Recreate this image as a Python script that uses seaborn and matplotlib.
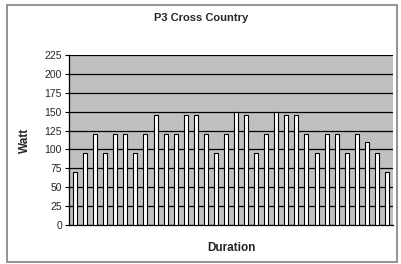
import matplotlib
matplotlib.use("Agg")
import matplotlib.pyplot as plt
import seaborn as sns
import pandas as pd
from matplotlib.patches import Rectangle

watts = [70, 95, 120, 95, 120, 120, 95, 120, 145, 120, 120, 145, 145, 120, 95, 120,
         150, 145, 95, 120, 150, 145, 145, 120, 95, 120, 120, 95, 120, 110, 95, 70]
steps = list(range(1, len(watts) + 1))
yticks = list(range(0, 226, 25))

df = pd.DataFrame({"step": steps, "watt": watts})

sns.set_style("white")
plt.rcParams['font.family'] = ['Liberation Sans', 'DejaVu Sans']

fig = plt.figure(figsize=(4.01, 2.64), dpi=100)
ax = fig.add_axes([69/401, 1 - 225/264, (393 - 69)/401, (225 - 55)/264])
ax.set_facecolor("#c0c0c0")

sns.barplot(data=df, x="step", y="watt", color="white", edgecolor="black",
            linewidth=0.8, width=0.4, saturation=1, ax=ax, zorder=3)

ax.set_ylim(0, 225)
ax.set_xlim(-0.6, len(watts) - 0.4)
ax.set_yticks(yticks)
ax.set_yticklabels([str(t) for t in yticks], fontsize=7.5)
ax.set_xticks([])
ax.yaxis.grid(True, color="black", linewidth=0.9, zorder=1)
ax.set_axisbelow(True)
ax.tick_params(axis="y", length=3, width=0.8, color="black", pad=2, left=True)
for s in ["top", "right"]:
    ax.spines[s].set_visible(False)
for s in ["left", "bottom"]:
    ax.spines[s].set_color("black")
    ax.spines[s].set_linewidth(0.9)

ax.set_xlabel("Duration", fontsize=8.5, fontweight="bold", labelpad=12)
ax.set_ylabel("Watt", fontsize=8.5, fontweight="bold", labelpad=10)
fig.text(201/401, 1 - 18/264, "P3 Cross Country", fontsize=8, fontweight="bold",
         ha="center", va="center")

fig.patches.append(Rectangle((7/401, 2/264), 390/401, 257/264, transform=fig.transFigure,
                             fill=False, edgecolor="#808080", linewidth=1.2))

fig.savefig("out.png", dpi=100)
